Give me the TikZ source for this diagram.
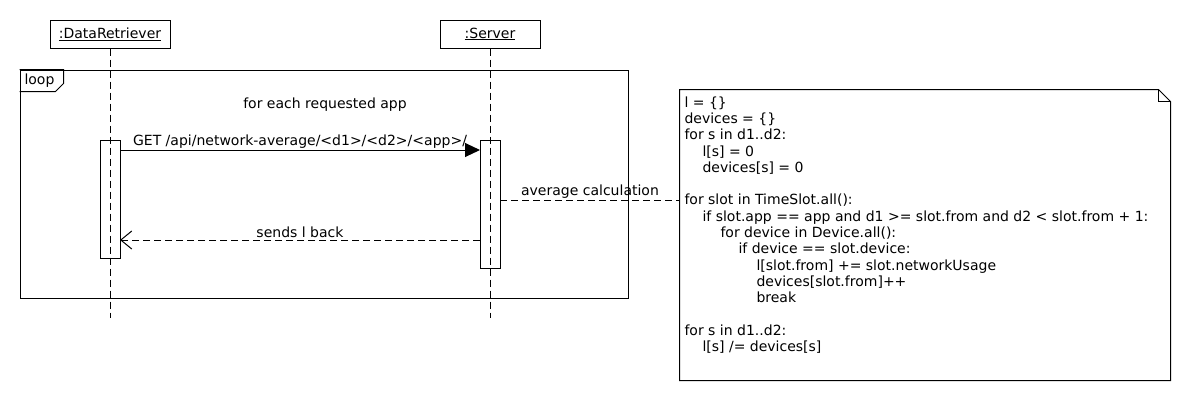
\documentclass[tikz,border=0pt]{standalone}
\usepackage{fontspec}
\setmainfont{DejaVu Sans}
\usetikzlibrary{arrows.meta}
\newcommand\codeind[1]{\hspace*{#1pt}}
\begin{document}
\begin{tikzpicture}[x=1pt,y=-1pt,line width=1pt,
  every node/.style={font=\fontsize{14}{16.3}\selectfont},
  objbox/.style={draw, minimum height=28pt, inner sep=0pt},
  lifeline/.style={dash pattern=on 7pt off 4pt},
  actbox/.style={draw, minimum width=20pt, inner sep=0pt},
  msgdash/.style={dash pattern=on 7pt off 4pt},
  lbl/.style={inner sep=1.5pt}]
\useasboundingbox (0,0) rectangle (1190,400);
% loop frame
\node[draw, minimum width=608pt, minimum height=228pt, inner sep=0pt] (loop) at (324,184) {};
\draw (loop.north west) -- ++(44,0) -- ++(0,14) -- ++(-8,8) -- ([yshift=-22pt]loop.north west);
\node[anchor=west, inner sep=0pt] (looplbl) at (24,81) {loop};
\node (guard) at (325,105) {for each requested app};
% objects
\node[objbox, minimum width=120pt] (dr) at (110,34) {\underline{:DataRetriever}};
\node[objbox, minimum width=100pt] (srv) at (490,34) {\underline{:Server}};
\coordinate (drend) at (110,318);
\coordinate (srvend) at (490,318);
\draw[lifeline] (dr.south) -- (drend);
\draw[lifeline] (srv.south) -- (srvend);
% activations
\node[actbox, minimum height=118pt] (a1) at (110,199) {};
\node[actbox, minimum height=128pt] (a2) at (490,204) {};
% messages
\coordinate (g1) at (120,150);
\coordinate (g2) at (480,150);
\draw[-{Triangle[length=15pt,width=14pt]}] (g1) -- (g2)
  node[midway, above, lbl] (getlbl) {GET /api/network-average/<d1>/<d2>/<app>/};
\coordinate (r1) at (480,240);
\coordinate (r2) at (120,240);
\draw[msgdash, -{Straight Barb[length=11pt,width=18pt]}] (r1) -- (r2)
  node[midway, above, lbl] (retlbl) {sends l back};
% note
\node[minimum width=490pt, minimum height=290pt, inner sep=0pt] (note) at (925,235) {};
\draw (note.north west) -- ([xshift=-12pt]note.north east) -- ([yshift=-12pt]note.north east)
  -- (note.south east) -- (note.south west) -- cycle;
\draw ([xshift=-12pt]note.north east) -- ([xshift=-12pt,yshift=-12pt]note.north east) -- ([yshift=-12pt]note.north east);
\node[anchor=north west, align=left, inner sep=0pt] (code) at (684,96) {%
l = \{\}\\
devices = \{\}\\
for s in d1..d2:\\
\codeind{18}l[s] = 0\\
\codeind{18}devices[s] = 0\\
\strut\\
for slot in TimeSlot.all():\\
\codeind{18}if slot.app == app and d1 >= slot.from and d2 < slot.from + 1:\\
\codeind{36}for device in Device.all():\\
\codeind{54}if device == slot.device:\\
\codeind{72}l[slot.from] += slot.networkUsage\\
\codeind{72}devices[slot.from]++\\
\codeind{72}break\\
\strut\\
for s in d1..d2:\\
\codeind{18}l[s] /= devices[s]};
\coordinate (c1) at (500,200);
\coordinate (c2) at (680,200);
\draw[msgdash] (c1) -- (c2) node[midway, above, lbl] (calclbl) {average calculation};
\end{tikzpicture}
\end{document}
